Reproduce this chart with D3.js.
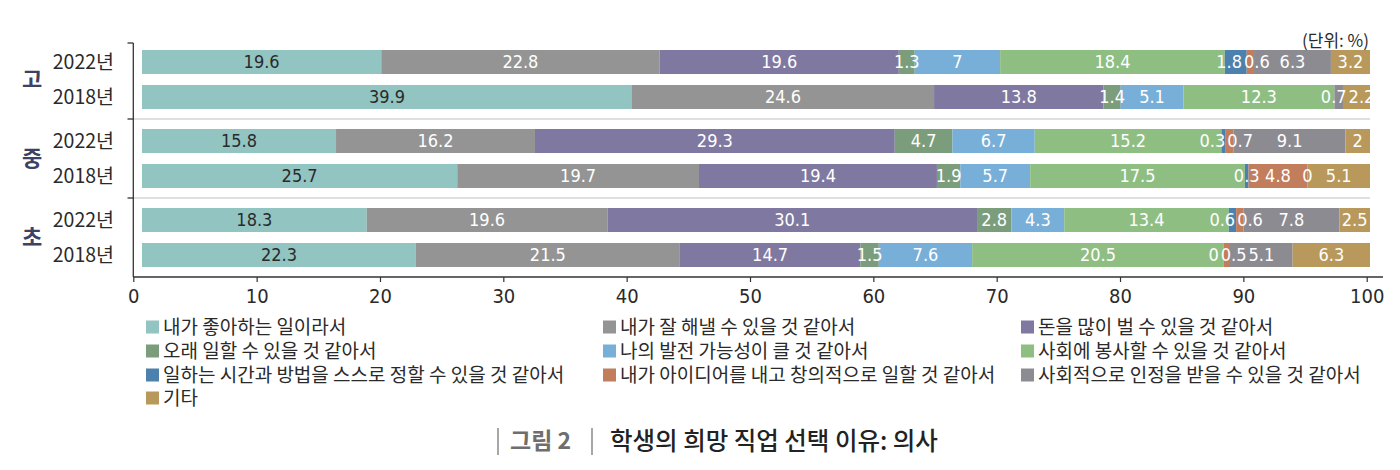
<!DOCTYPE html>
<html><head><meta charset="utf-8">
<script src="https://cdn.jsdelivr.net/npm/d3@7"></script>
<style>
html,body{margin:0;padding:0;background:#fff;}
svg{display:block;}
.num{font-family:"Liberation Sans Narrow","DejaVu Sans Condensed","Roboto",sans-serif;}
.kr{font-family:"Noto Sans CJK KR","Noto Sans",sans-serif;}
</style></head>
<body>
<svg id="chart" width="1400" height="470"></svg>
<script>
const groups = ['고','중','초'];
const years = ['2022년','2018년'];
const seriesNames = [
  '내가 좋아하는 일이라서',
  '내가 잘 해낼 수 있을 것 같아서',
  '돈을 많이 벌 수 있을 것 같아서',
  '오래 일할 수 있을 것 같아서',
  '나의 발전 가능성이 클 것 같아서',
  '사회에 봉사할 수 있을 것 같아서',
  '일하는 시간과 방법을 스스로 정할 수 있을 것 같아서',
  '내가 아이디어를 내고 창의적으로 일할 것 같아서',
  '사회적으로 인정을 받을 수 있을 것 같아서',
  '기타'
];
const colors = ['#92c4c1','#949494','#7f79a1','#7b9d7c','#78afd9','#8fbe83','#4c80ad','#c27d5c','#8d8b92','#b8995b'];
const go2022   = [19.6, 22.8, 19.6, 1.3, 7,   18.4, 1.8, 0.6, 6.3, 3.2];
const go2018   = [39.9, 24.6, 13.8, 1.4, 5.1, 12.3, null, null, 0.7, 2.2];
const jung2022 = [15.8, 16.2, 29.3, 4.7, 6.7, 15.2, 0.3, 0.7, 9.1, 2];
const jung2018 = [25.7, 19.7, 19.4, 1.9, 5.7, 17.5, 0.3, 4.8, 0,   5.1];
const cho2022  = [18.3, 19.6, 30.1, 2.8, 4.3, 13.4, 0.6, 0.6, 7.8, 2.5];
const cho2018  = [22.3, 21.5, 14.7, 1.5, 7.6, 20.5, 0,   0.5, 5.1, 6.3];
const xTicks = [0,10,20,30,40,50,60,70,80,90,100];
const unitLabel = '(단위: %)';
const figLabel = '그림 2';
const title = '학생의 희망 직업 선택 이유: 의사';

const rows = [
  {group:'고', year:'2022년', values:go2022},
  {group:'고', year:'2018년', values:go2018},
  {group:'중', year:'2022년', values:jung2022},
  {group:'중', year:'2018년', values:jung2018},
  {group:'초', year:'2022년', values:cho2022},
  {group:'초', year:'2018년', values:cho2018}
];

const svg = d3.select('#chart');

const xAxisScale = d3.scaleLinear().domain([0,100]).range([133.3,1366.7]);
const xBar = d3.scaleLinear().domain([0,1]).range([142,1370]);
const yGroup = d3.scaleBand().domain(groups).range([40,277]);
const yYear = d3.scaleBand().domain(years).range([-29.5,29.5]).paddingInner(0.314);

const stack = d3.stack().keys(d3.range(seriesNames.length))
  .value((d,k)=> d.values[k] == null ? 0 : d.values[k])
  .offset(d3.stackOffsetExpand);
const stacked = stack(rows);

// separators between groups
const bounds = groups.slice(1).map(g => yGroup(g));
svg.append('g').selectAll('line').data(bounds).join('line')
  .attr('x1',133.3).attr('x2',1370).attr('y1',d=>d).attr('y2',d=>d)
  .attr('stroke','#d4d4d4').attr('stroke-width',1.5);

const rowY = r => yGroup(r.group) + yGroup.bandwidth()/2 + yYear(r.year);

// bars
const layers = svg.append('g').selectAll('g').data(stacked).join('g')
  .attr('fill', (d,i)=>colors[i]);
layers.selectAll('rect').data(d=>d).join('rect')
  .attr('x', d=>xBar(d[0]))
  .attr('width', d=>Math.max(0, xBar(d[1])-xBar(d[0])))
  .attr('y', d=>rowY(d.data))
  .attr('height', yYear.bandwidth());

// labels with simple collision spreading
const labelG = svg.append('g').attr('class','num');
rows.forEach((r, ri) => {
  const labels = [];
  stacked.forEach((layer, k) => {
    const v = r.values[k];
    if (v == null) return;
    const seg = layer[ri];
    const x0 = xBar(seg[0]), x1 = xBar(seg[1]);
    const t = labelG.append('text')
      .attr('y', rowY(r) + yYear.bandwidth()/2)
      .attr('dy','0.36em')
      .attr('text-anchor','middle')
      .attr('font-size',18)
      .attr('fill', k===0 ? '#2a2a2a' : '#ffffff')
      .text(String(v));
    const w = t.node().getComputedTextLength();
    labels.push({t, x:(x0+x1)/2, w, movable: (x1-x0) < w + 4});
  });
  const gap = 2;
  for (let it=0; it<40; it++) {
    for (let i=0; i<labels.length-1; i++) {
      const a = labels[i], b = labels[i+1];
      const ov = (a.x + a.w/2 + gap) - (b.x - b.w/2);
      if (ov > 0) {
        if (a.movable && b.movable) { a.x -= ov/2; b.x += ov/2; }
        else if (a.movable) { a.x -= ov; }
        else if (b.movable) { b.x += ov; }
      }
    }
  }
  labels.forEach(l => l.t.attr('x', l.x));
});

// y axis
svg.append('line').attr('x1',133.3).attr('x2',133.3).attr('y1',yGroup.range()[0]+3).attr('y2',277)
  .attr('stroke','#333').attr('stroke-width',1.3);
const tickYs = [yGroup.range()[0]+3].concat(bounds);
svg.append('g').selectAll('line').data(tickYs).join('line')
  .attr('x1',127.5).attr('x2',133.3).attr('y1',d=>d).attr('y2',d=>d)
  .attr('stroke','#333').attr('stroke-width',1.3);

// x axis
const xAxis = svg.append('g').attr('transform','translate(0,277)')
  .call(d3.axisBottom(xAxisScale).tickValues(xTicks).tickSize(5).tickPadding(7).tickSizeOuter(0));
xAxis.select('.domain').remove();
xAxis.append('line').attr('x1',133.3).attr('x2',1383).attr('stroke','#333').attr('stroke-width',1.3);
xAxis.selectAll('.tick line').attr('stroke','#333').attr('stroke-width',1.2);
xAxis.selectAll('.tick text').attr('class','num').attr('font-size',20).attr('fill','#2a2a2a')
  .style('font-family','"Liberation Sans Narrow","DejaVu Sans Condensed",sans-serif');

// year labels
const yl = svg.append('g');
rows.forEach(r => {
  yl.append('text').attr('x',114).attr('y',rowY(r)+yYear.bandwidth()/2).attr('dy','0.36em')
    .attr('text-anchor','end').attr('font-size',19.5).attr('fill','#2a2a2a')
    .style('font-family','"Liberation Sans Narrow","Noto Sans CJK KR",sans-serif')
    .text(r.year);
});
// group labels
svg.append('g').selectAll('text').data(groups).join('text')
  .attr('class','kr')
  .attr('x',32).attr('y',g=>yGroup(g)+yGroup.bandwidth()/2).attr('dy','0.36em')
  .attr('text-anchor','middle').attr('font-size',22).attr('font-weight',700).attr('fill','#3c4266')
  .text(g=>g);

// unit label
svg.append('text').attr('class','kr').attr('x',1369).attr('y',47).attr('text-anchor','end')
  .attr('font-size',17).attr('fill','#2a2a2a').text(unitLabel);

// legend
const legCols = [143, 600, 1018];
const legRowY = [327, 351, 375, 398];
const leg = svg.append('g').attr('class','kr');
seriesNames.forEach((name,i) => {
  const cx = legCols[i%3], cy = legRowY[Math.floor(i/3)];
  leg.append('rect').attr('x',cx+3).attr('y',cy-6.5).attr('width',13).attr('height',13).attr('fill',colors[i]);
  leg.append('text').attr('x',cx+20).attr('y',cy).attr('dy','0.36em')
    .attr('font-size',19).attr('fill','#2a2a2a').text(name);
});

// title
const tg = svg.append('g').attr('class','kr');
tg.append('line').attr('x1',498).attr('x2',498).attr('y1',428).attr('y2',455).attr('stroke','#8a8a8a').attr('stroke-width',1.5);
tg.append('text').attr('x',510).attr('y',441).attr('dy','0.36em').attr('font-size',23).attr('font-weight',700)
  .attr('fill','#6e6e6e').text(figLabel);
tg.append('line').attr('x1',592).attr('x2',592).attr('y1',428).attr('y2',455).attr('stroke','#8a8a8a').attr('stroke-width',1.5);
tg.append('text').attr('x',610).attr('y',441).attr('dy','0.36em').attr('font-size',24.5).attr('font-weight',500)
  .attr('fill','#222').text(title);
</script>
</body></html>
